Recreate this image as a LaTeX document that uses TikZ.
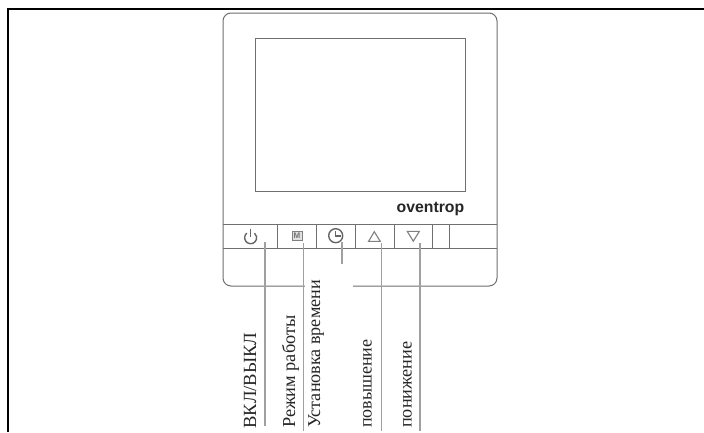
\documentclass[tikz,border=0pt]{standalone}
\usepackage{fontspec}
\setmainfont{Liberation Serif}
\setsansfont{Liberation Sans}
\definecolor{edge}{HTML}{707070}
\definecolor{lead}{HTML}{A0A0A0}
\tikzset{
  x=1pt,y=-1pt,
  devline/.style={draw=edge,line width=1pt},
  leader/.style={draw=lead,line width=1.1pt},
  icon/.style={draw=black!60,line width=1.1pt},
  caption/.style={rotate=90,anchor=base west,inner sep=0pt,font=\fontsize{#1}{#1}\selectfont,text=black!85},
  box/.style={devline,inner sep=0pt,outer sep=0pt,anchor=north west}
}
\begin{document}
\begin{tikzpicture}
\useasboundingbox (0,0) rectangle (704,432);
\fill[white] (0,0) rectangle (704,432);
% outer frame
\coordinate (fa) at (8,432);
\coordinate (fb) at (8,9);
\coordinate (fc) at (704,9);
\draw[black,line width=2pt,line cap=butt,line join=miter] (fa) -- (fb) -- (fc);
% device
\node[box,rounded corners=8pt,minimum width=274pt,minimum height=273pt] (device) at (223,13) {};
\node[box,minimum width=210pt,minimum height=153pt] (screen) at (255,38.5) {};
\node[inner sep=0pt,outer sep=0pt,anchor=north west,minimum width=274pt,minimum height=24pt] (strip) at (223,224) {};
\draw[devline] (strip.north west) -- (strip.north east);
\draw[devline] (strip.south west) -- (strip.south east);
\foreach \n/\x in {d1/277,d2/316,d3/355,d4/394,d5/432,d6/449}{
  \coordinate (\n a) at (\x,224);
  \coordinate (\n b) at (\x,248);
  \draw[devline] (\n a) -- (\n b);
}
\node[font=\sffamily\bfseries\fontsize{15.8}{15.8}\selectfont,text=black!85,inner sep=0pt] (logo) at (430.5,209) {oventrop};
% icons
\draw[icon,line width=1.4pt] (246.8,233.1) arc[start angle=130,delta angle=280,radius=6pt];
\draw[icon,line width=1.4pt] (250.7,228.5) -- (250.7,237);
\node[draw=black!50,fill=black!12,minimum width=10pt,minimum height=9pt,inner sep=0pt,line width=.7pt,font=\sffamily\bfseries\fontsize{8}{8}\selectfont,text=black!55] (modeicon) at (297,235.7) {M};
\node[icon,line width=1.4pt,circle,minimum size=14pt,inner sep=0pt] (clockicon) at (335.7,235.7) {};
\coordinate (cha) at (335.7,231);
\coordinate (chb) at (335.7,236);
\coordinate (chc) at (341,236);
\draw[icon,line width=1.4pt] (cha) -- (chb) -- (chc);
\draw[icon,draw=black!50] (374.3,231.7) -- (380.2,241.3) -- (368.6,241.3) -- cycle;
\draw[icon,draw=black!50] (407.3,231.4) -- (419.3,231.4) -- (413.3,241.2) -- cycle;
% white box over the lower edge
\fill[white] (304.5,264.5) rectangle (353,292);
% leaders
\foreach \n/\x/\ya/\yb in {la/265/242/426,lb/303.7/243/431,lc/342/242/264,ld/381.5/243/431,le/420/243/431}{
  \coordinate (\n a) at (\x,\ya);
  \coordinate (\n b) at (\x,\yb);
  \draw[leader] (\n a) -- (\n b);
}
% captions
\node[caption=18.6] (t1) at (256,429) {ВКЛ/ВЫКЛ};
\node[caption=18.3] (t2) at (295,428) {Режим работы};
\node[caption=18.1] (t3) at (320,428) {Установка времени};
\node[caption=18] (t4) at (371.5,428) {повышение};
\node[caption=18.2] (t5) at (411.7,428) {понижение};
\end{tikzpicture}
\end{document}
